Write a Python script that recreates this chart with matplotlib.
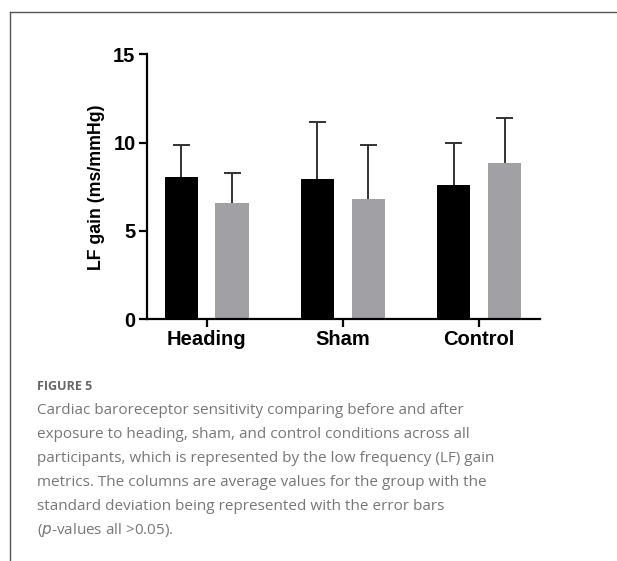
"""Bar chart of LF gain before/after exposure, with caption."""
import matplotlib.pyplot as plt
import numpy as np
from matplotlib.lines import Line2D

groups = ["Heading", "Sham", "Control"]
before_mean = [8.06, 7.96, 7.60]
after_mean = [6.57, 6.81, 8.87]
before_sd = [1.83, 3.21, 2.40]
after_sd = [1.73, 3.06, 2.55]

caption_title = "FIGURE 5"
caption_lines = [
    "Cardiac baroreceptor sensitivity comparing before and after",
    "exposure to heading, sham, and control conditions across all",
    "participants, which is represented by the low frequency (LF) gain",
    "metrics. The columns are average values for the group with the",
    "standard deviation being represented with the error bars",
    "($\\it{p}$-values all >0.05).",
]

fig = plt.figure(figsize=(6.17, 5.61), dpi=100)
ax = fig.add_axes([0.2378, 0.4308, 0.875 - 0.2378, 0.4724])

x = np.arange(len(groups))
off, w, cap = 0.187, 0.245, 0.062


def bars_with_sd(xpos, mean, sd, color):
    mean, sd = np.asarray(mean), np.asarray(sd)
    ax.bar(xpos, mean, w, color=color, zorder=2)
    ax.vlines(xpos, mean, mean + sd, color="#333333", lw=1.4, zorder=1)
    ax.hlines(mean + sd, xpos - cap, xpos + cap, color="#333333", lw=1.4,
              zorder=1)


bars_with_sd(x - off, before_mean, before_sd, "black")
bars_with_sd(x + off, after_mean, after_sd, "#a1a0a5")

ax.set_xlim(-0.44, 2.445)
ax.set_ylim(0, 15)
ax.set_yticks([0, 5, 10, 15])
ax.set_xticks(x)
ax.set_xticklabels(groups)
for lab in ax.get_xticklabels() + ax.get_yticklabels():
    lab.set_fontfamily("Liberation Sans")
    lab.set_fontweight("bold")
    lab.set_fontsize(14.5)
ax.set_ylabel("LF gain (ms/mmHg)", fontfamily="Liberation Sans",
              fontweight="bold", fontsize=12.8, labelpad=6)
for s in ("top", "right"):
    ax.spines[s].set_visible(False)
for s in ("left", "bottom"):
    ax.spines[s].set_linewidth(1.6)
    ax.spines[s].set_zorder(3)
ax.tick_params(width=1.6, length=6, pad=2)

# frame lines of the figure panel
fig.add_artist(Line2D([9.5 / 617, 9.5 / 617], [0, 1 - 12 / 561],
                      color="#555555", lw=1.0, transform=fig.transFigure))
fig.add_artist(Line2D([9.5 / 617, 1], [1 - 12 / 561, 1 - 12 / 561],
                      color="#555555", lw=1.0, transform=fig.transFigure))

fig.text(37 / 617, 1 - 387 / 561, caption_title, fontfamily="Open Sans",
         fontsize=9, color="#666666", va="center", fontweight="bold")
for i, line in enumerate(caption_lines):
    fig.text(37 / 617, 1 - (410 + 24 * i) / 561, line, fontfamily="Open Sans",
             fontsize=11, color="#777777", va="center")

fig.savefig("out.png", dpi=100)
